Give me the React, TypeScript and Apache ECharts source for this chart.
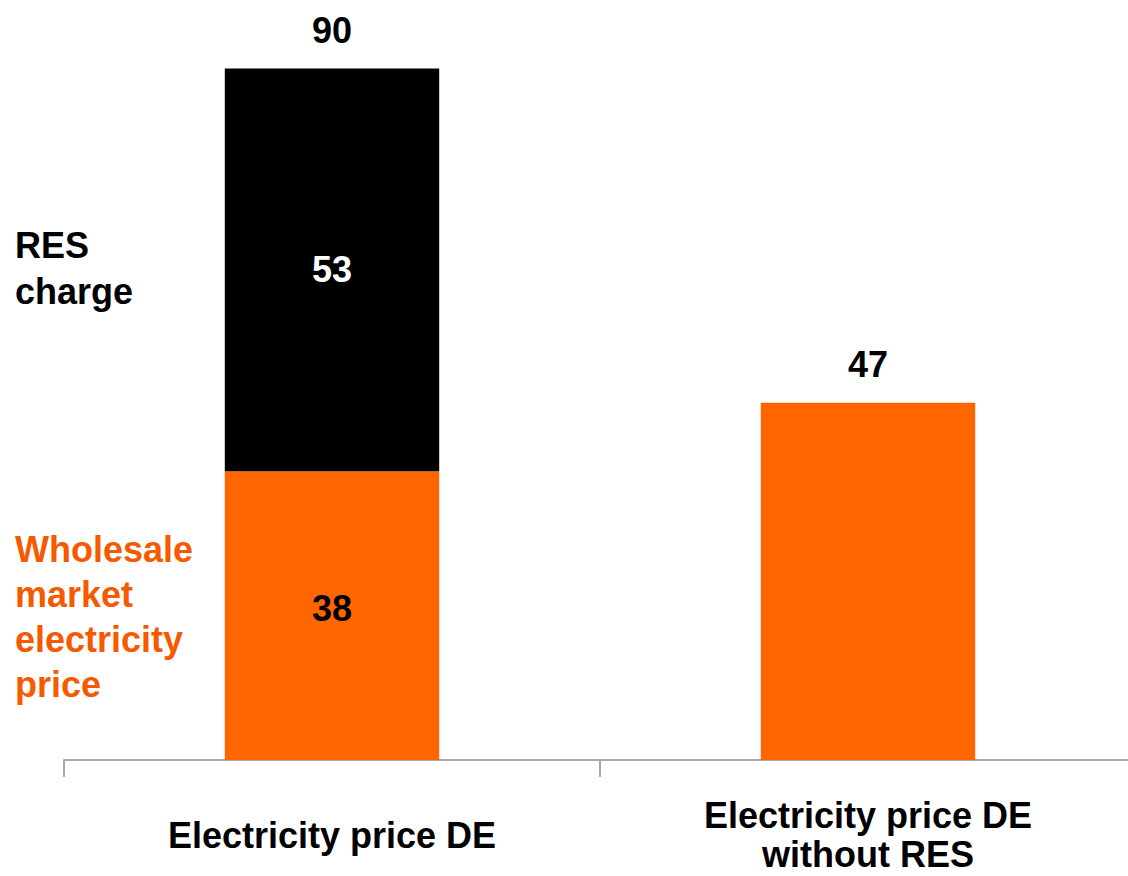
import React, { useEffect, useRef } from "react";
import * as echarts from "echarts";

const categories = ["Electricity price DE", "Electricity price DE\nwithout RES"];
const wholesaleValues = [38, 47];
const resValues: (number | string)[] = [53, "-"];
const totalLabels = [90, 47];
const sideLabels = { res: "RES\ncharge", wholesale: "Wholesale\nmarket\nelectricity\nprice" };

const ORANGE = "#ff6600";
const TEXT_ORANGE = "#f55a00";
const FONT = "'Liberation Sans', Arial, Helvetica, sans-serif";

export default function App() {
  const ref = useRef<HTMLDivElement>(null);
  useEffect(() => {
    if (!ref.current) return;
    const chart = echarts.init(ref.current, null, { renderer: "svg" });
    const labelBase = { fontFamily: FONT, fontWeight: "bold" as const, fontSize: 36 };
    chart.setOption({
      animation: false,
      backgroundColor: "#ffffff",
      grid: { left: 64, right: -8, top: 0, bottom: 116, outerBoundsMode: "none", containLabel: false },
      xAxis: {
        type: "category",
        data: categories,
        axisLine: { show: true, lineStyle: { color: "#aaaaaa", width: 2 } },
        axisTick: { show: true, length: 17, lineStyle: { color: "#aaaaaa", width: 2 } },
        axisLabel: {
          ...labelBase,
          color: "#000000",
          margin: 75,
          lineHeight: 39,
          verticalAlign: "middle",
          interval: 0,
        },
      },
      yAxis: { type: "value", min: 0, max: 100, show: false, splitLine: { show: false } },
      series: [
        {
          name: "Wholesale market electricity price",
          type: "bar",
          stack: "total",
          barWidth: "40%",
          itemStyle: { color: ORANGE },
          data: wholesaleValues.map((v, i) => ({
            value: v,
            label: i === 0
              ? { show: true, position: "inside", offset: [0, -7], color: "#000000", ...labelBase }
              : { show: false },
          })),
        },
        {
          name: "RES charge",
          type: "bar",
          stack: "total",
          barWidth: "40%",
          itemStyle: { color: "#000000" },
          label: { show: true, position: "inside", color: "#ffffff", ...labelBase },
          data: resValues,
        },
        {
          name: "Total",
          type: "bar",
          stack: "total",
          barWidth: "40%",
          itemStyle: { color: "transparent" },
          label: {
            show: true,
            position: "top",
            distance: 20,
            color: "#000000",
            ...labelBase,
            formatter: (p: any) => String(totalLabels[p.dataIndex]),
          },
          data: totalLabels.map(() => 0),
        },
      ],
      graphic: [
        {
          type: "text",
          left: 15,
          top: 222,
          style: {
            text: sideLabels.res,
            font: `bold 36px ${FONT}`,
            fill: "#000000",
            lineHeight: 46,
          },
        },
        {
          type: "text",
          left: 15,
          top: 527,
          style: {
            text: sideLabels.wholesale,
            font: `bold 36px ${FONT}`,
            fill: TEXT_ORANGE,
            lineHeight: 45,
          },
        },
      ],
    });
    return () => chart.dispose();
  }, []);
  return (
    <div
      ref={ref}
      style={{ position: "fixed", left: 0, top: 0, width: 1128, height: 876, background: "#fff" }}
    />
  );
}
